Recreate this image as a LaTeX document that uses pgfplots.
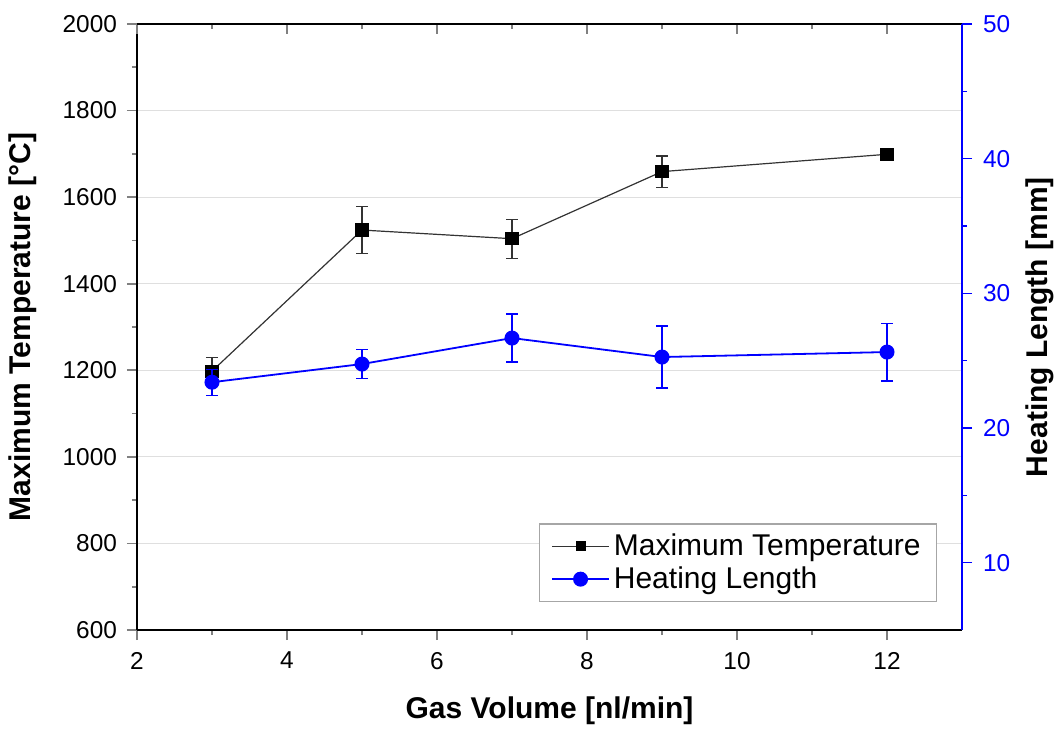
\documentclass[border=0pt]{standalone}
\usepackage{fontspec}
\setmainfont{Liberation Sans}
\usepackage{pgfplots}
\pgfplotsset{compat=1.18}
\begin{document}
\begin{tikzpicture}
\useasboundingbox (-68.5pt,-49.5pt) rectangle (460.5pt,315pt);
\pgfplotsset{
  common/.style={
    width=412.5pt, height=303pt, scale only axis,
    xmin=2, xmax=13, anchor=south west, at={(0,0)},
    /pgf/number format/assume math mode=true,
    tick label style={font=\fontsize{12.2}{14}\selectfont},
    label style={font=\fontsize{15}{17}\selectfont\bfseries},
    axis line style={line width=0.9pt},
    major tick length=5pt, minor tick length=2.5pt,
    tick style={line width=0.8pt},
    xtick={2,4,...,12}, minor x tick num=1,
    legend image code/.code={\draw[mark repeat=2,mark phase=2] plot coordinates {(0cm,0cm) (0.5cm,0cm) (1cm,0cm)};},
  }
}
% main left/bottom axis
\begin{axis}[common,
  ymin=600, ymax=2000,
  axis x line*=bottom, axis y line*=left,
  tick align=outside,
  ytick={600,800,...,2000}, minor y tick num=1,
  y tick label style={/pgf/number format/1000 sep={}, xshift=-1.5pt},
  x tick label style={yshift=-2.5pt},
  ymajorgrids, grid style={gray!25, line width=0.6pt},
  xlabel={Gas Volume [nl/min]},
  ylabel={Maximum Temperature [°C]},
  xlabel style={at={(axis description cs:0.5,-0.134)}, anchor=center},
  ylabel style={at={(axis description cs:-0.138,0.5)}, anchor=center},
]
\addplot[black!80, line width=0.6pt, mark=square*, mark size=3pt,
  mark options={solid, fill=black, draw=black},
  error bars/.cd, y dir=both, y explicit,
  error bar style={line width=0.6pt, black!80},
  error mark options={rotate=90, mark size=3pt, line width=0.6pt, black!80}]
  table[x=x, y=y, y error=e] {
x y e
3 1198 31
5 1524 55
7 1504 45
9 1659 36
12 1699 0
};
\end{axis}
% top axis
\begin{axis}[common,
  ymin=600, ymax=2000,
  axis x line*=top, axis y line=none,
  tick align=inside,
  xticklabels={},
]
\end{axis}
% right axis
\begin{axis}[common,
  ymin=5, ymax=50,
  axis y line*=right, axis x line=none,
  tick align=outside,
  ytick={10,20,...,50}, minor y tick num=1,
  y axis line style={blue, line width=0.9pt},
  ytick style={blue, line width=0.8pt},
  yticklabel style={blue, xshift=2pt},
  ylabel={Heating Length [mm]},
  ylabel style={at={(axis description cs:1.0945,0.5)}, anchor=center},
  legend style={at={(axis description cs:0.97,0.046)}, anchor=south east,
    draw=gray!70, line width=0.6pt, font=\fontsize{15}{17}\selectfont,
    inner xsep=6pt, inner ysep=3pt, row sep=0pt},
  legend cell align=left,
]
\addlegendimage{black!80, line width=0.6pt, mark=square*, mark size=2.2pt, mark options={solid, fill=black, draw=black}}
\addlegendentry{Maximum Temperature}
\addplot[blue, line width=0.9pt, mark=*, mark size=3.3pt,
  mark options={solid, fill=blue, draw=blue},
  error bars/.cd, y dir=both, y explicit,
  error bar style={line width=0.6pt, blue},
  error mark options={rotate=90, mark size=3pt, line width=0.6pt, blue}]
  table[x=x, y=y, y error=e] {
x y e
3 23.4 0.97
5 24.75 1.1
7 26.68 1.78
9 25.27 2.3
12 25.64 2.15
};
\addlegendentry{Heating Length}
\end{axis}
\end{tikzpicture}
\end{document}
